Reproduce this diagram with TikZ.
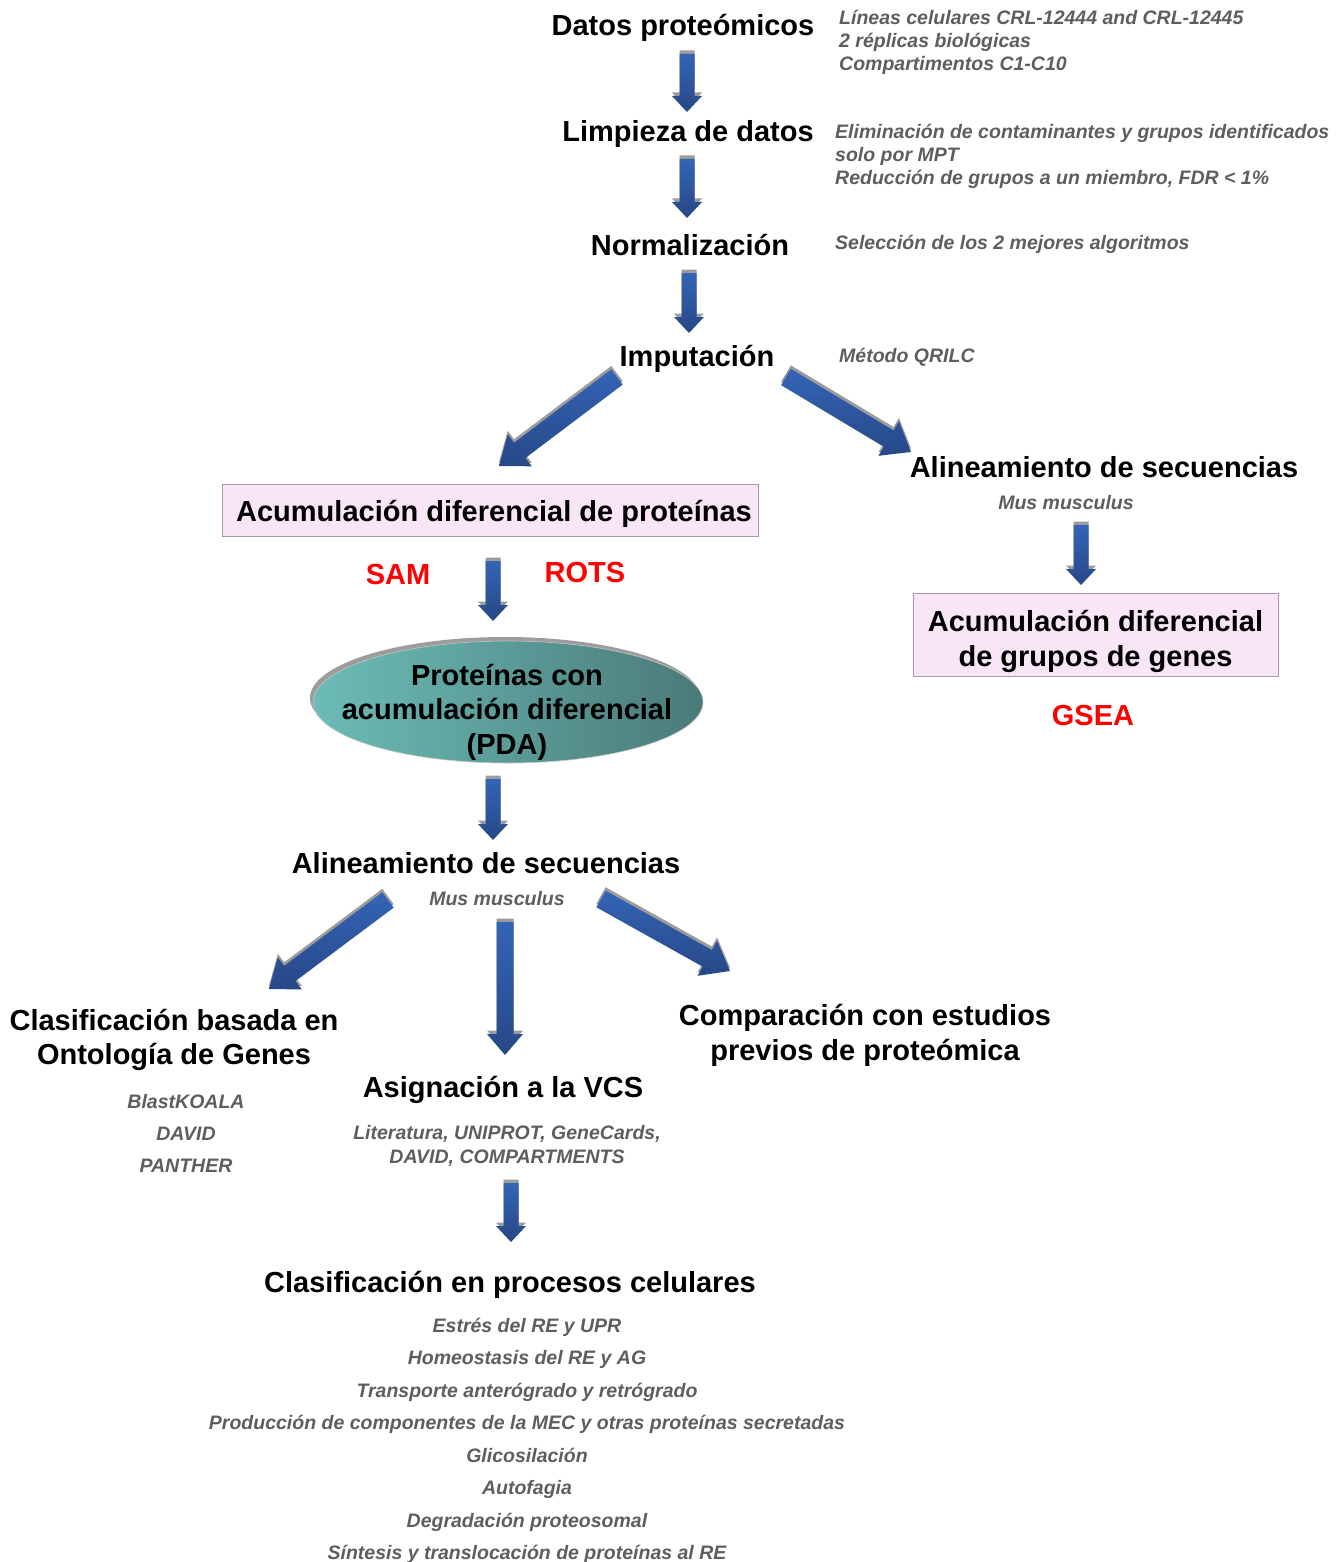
\documentclass[tikz,border=0pt]{standalone}
\usepackage{fontspec}
\setmainfont{Liberation Sans}
\usetikzlibrary{calc,shapes.geometric}
\definecolor{arrlight}{HTML}{3464B6}
\definecolor{arrdark}{HTML}{264886}
\definecolor{arrshadow}{HTML}{9C9C9C}
\definecolor{notegray}{HTML}{5E5E5E}
\definecolor{boxpink}{HTML}{F8E5F6}
\definecolor{boxedge}{HTML}{A898A8}
\definecolor{ellL}{HTML}{6CBCB7}
\definecolor{ellR}{HTML}{4A7A78}
\definecolor{myred}{HTML}{FF0000}
% block arrow: tail, tip, half shaft width, half head width, head length
\newcommand\barrow[5]{%
  \coordinate (bh) at ($(#2)!#5!(#1)$);
  \fill[arrshadow, transform canvas={yshift=3.5pt}]
    ($(#1)!#3!90:(#2)$) -- ($(bh)!#3!90:(#2)$) -- ($(bh)!#4!90:(#2)$) -- (#2)
    -- ($(bh)!#4!-90:(#2)$) -- ($(bh)!#3!-90:(#2)$) -- ($(#1)!#3!-90:(#2)$) -- cycle;
  \path[top color=arrlight, bottom color=arrdark]
    ($(#1)!#3!90:(#2)$) -- ($(bh)!#3!90:(#2)$) -- ($(bh)!#4!90:(#2)$) -- (#2)
    -- ($(bh)!#4!-90:(#2)$) -- ($(bh)!#3!-90:(#2)$) -- ($(#1)!#3!-90:(#2)$) -- cycle;
}
\newcommand\varrow[2]{\barrow{#1}{#2}{7.5pt}{15pt}{16pt}}
\newcommand\darrow[2]{\barrow{#1}{#2}{9.5pt}{20pt}{26pt}}
\begin{document}
\begin{tikzpicture}[x=1pt,y=-1pt,
  title/.style={font=\fontsize{29}{34.5}\selectfont\bfseries, inner sep=0pt, align=center},
  redlbl/.style={title, text=myred},
  note/.style={font=\fontsize{19.5}{23}\selectfont\bfseries\itshape, text=notegray, inner sep=0pt, align=left},
  cnote/.style={note, align=center},
  pinkbox/.style={rectangle, fill=boxpink, draw=boxedge, line width=1pt, inner sep=0pt},
]
\useasboundingbox (0,0) rectangle (1340,1562);
\fill[white] (0,0) rectangle (1340,1562);

% main column
\node[title] (tDatos) at (683,28) {Datos proteómicos};
\node[note, anchor=west] (nDatos) at (839,42) {Líneas celulares CRL-12444 and CRL-12445\\2 réplicas biológicas\\Compartimentos C1-C10};
\node[title] (tLimp) at (688,134) {Limpieza de datos};
\node[note, anchor=west] (nLimp) at (835,156) {Eliminación de contaminantes y grupos identificados\\solo por MPT\\Reducción de grupos a un miembro, FDR < 1\%};
\node[title] (tNorm) at (690,245) {Normalización};
\node[note, anchor=west] (nNorm) at (835,244) {Selección de los 2 mejores algoritmos};
\node[title] (tImp) at (697,359) {Imputación};
\node[note, anchor=west] (nImp) at (839,357) {Método QRILC};

\coordinate (a1s) at (687,54);  \coordinate (a1e) at (687,112);
\coordinate (a2s) at (687,159); \coordinate (a2e) at (687,218);
\coordinate (a3s) at (689,273); \coordinate (a3e) at (689,333);
\varrow{a1s}{a1e}
\varrow{a2s}{a2e}
\varrow{a3s}{a3e}

% split after imputation
\coordinate (a4s) at (617,377); \coordinate (a4e) at (499,466);
\coordinate (a5s) at (786,377); \coordinate (a5e) at (911,452);
\darrow{a4s}{a4e}
\darrow{a5s}{a5e}

% right branch
\node[title] (tAlinR) at (1104,467) {Alineamiento de secuencias};
\node[cnote] (musR) at (1066,503) {Mus musculus};
\coordinate (a6s) at (1081,525); \coordinate (a6e) at (1081,585);
\varrow{a6s}{a6e}
\node[pinkbox, minimum width=365pt, minimum height=83pt] (box2) at (1095.5,634.5) {};
\node[title] (box2text) at (1095.5,641.5) {Acumulación diferencial\\de grupos de genes};
\node[title, text=myred] (gsea) at (1093,716) {GSEA};

% left branch
\node[pinkbox, minimum width=536pt, minimum height=52pt] (box1) at (490,510) {};
\node[title] (box1text) at (494,514) {Acumulación diferencial de proteínas};
\node[redlbl] (sam) at (398,575) {SAM};
\node[redlbl] (rots) at (585,573) {ROTS};
\coordinate (a7s) at (493,561); \coordinate (a7e) at (493,621);
\varrow{a7s}{a7e}

\fill[arrshadow] (505,698) ellipse [x radius=195, y radius=61];
\node[ellipse, minimum width=390pt, minimum height=122pt, inner sep=0pt,
      left color=ellL, right color=ellR, draw=gray!45, line width=0.6pt] (ell) at (508,702) {};
\node[title] (ellText) at (507,712) {Proteínas con\\acumulación diferencial\\(PDA)};

\coordinate (a8s) at (493,779); \coordinate (a8e) at (493,840);
\varrow{a8s}{a8e}

\node[title] (tAlin) at (486,863) {Alineamiento de secuencias};
\node[cnote] (mus) at (497,899) {Mus musculus};

\coordinate (a9s) at (388,900);  \coordinate (a9e) at (269,989);
\coordinate (a10s) at (505,922); \coordinate (a10e) at (505,1055);
\coordinate (a11s) at (601,899); \coordinate (a11e) at (730,971);
\darrow{a9s}{a9e}
\barrow{a10s}{a10e}{8.5pt}{18pt}{21pt}
\darrow{a11s}{a11e}

\node[title] (tGO) at (174,1040) {Clasificación basada en\\Ontología de Genes};
\node[cnote, font=\fontsize{19.5}{32}\selectfont\bfseries\itshape] (tools) at (186,1133) {BlastKOALA\\DAVID\\PANTHER};
\node[title] (tComp) at (865,1035.5) {Comparación con estudios\\previos de proteómica};
\node[title] (tVCS) at (503,1090) {Asignación a la VCS};
\node[cnote, font=\fontsize{19.5}{24}\selectfont\bfseries\itshape] (vcsSrc) at (507,1146) {Literatura, UNIPROT, GeneCards,\\DAVID, COMPARTMENTS};

\coordinate (a12s) at (511,1183); \coordinate (a12e) at (511,1242);
\varrow{a12s}{a12e}

\node[title] (tProc) at (510,1285) {Clasificación en procesos celulares};
\node[cnote, font=\fontsize{19.5}{32.5}\selectfont\bfseries\itshape] (procs) at (527,1441) {Estrés del RE y UPR\\Homeostasis del RE y AG\\Transporte anterógrado y retrógrado\\Producción de componentes de la MEC y otras proteínas secretadas\\Glicosilación\\Autofagia\\Degradación proteosomal\\Síntesis y translocación de proteínas al RE};
\end{tikzpicture}
\end{document}
